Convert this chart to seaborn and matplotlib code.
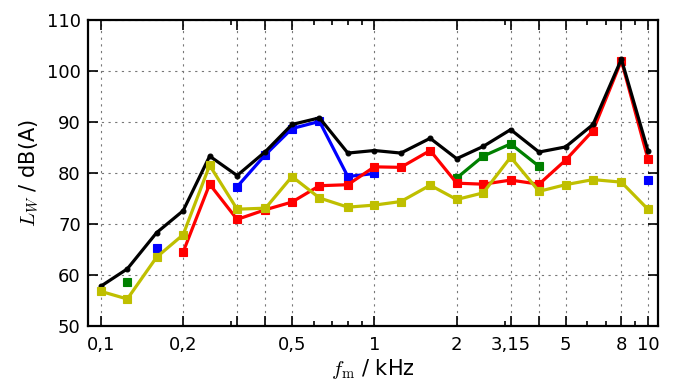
import numpy as np
import pandas as pd
import matplotlib
matplotlib.use("Agg")
import matplotlib.pyplot as plt
import seaborn as sns
from matplotlib.ticker import FixedLocator, FixedFormatter, NullFormatter

nan = np.nan
freqs = [0.1, 0.125, 0.16, 0.2, 0.25, 0.315, 0.4, 0.5, 0.63, 0.8, 1.0,
         1.25, 1.6, 2.0, 2.5, 3.15, 4.0, 5.0, 6.3, 8.0, 10.0]

black = [57.8, 61.2, 68.3, 72.6, 83.3, 79.5, 84.2, 89.5, 90.8, 83.9, 84.4,
         83.9, 86.8, 82.8, 85.2, 88.5, 84.1, 85.1, 89.5, 102.3, 84.4]
blue = [nan, nan, 65.3, nan, nan, 77.3, 83.6, 88.7, 90.1, 79.3, 79.9,
        nan, nan, nan, nan, nan, nan, nan, nan, nan, 78.6]
green = [nan, 58.7, nan, nan, nan, nan, nan, nan, nan, nan, nan,
         nan, nan, 79.0, 83.3, 85.7, 81.3, nan, nan, nan, nan]
red = [nan, nan, nan, 64.5, 77.8, 70.9, 72.8, 74.3, 77.5, 77.7, 81.2,
       81.1, 84.4, 78.0, 77.8, 78.6, 77.8, 82.5, 88.3, 102.0, 82.8]
yellow = [56.8, 55.3, 63.5, 67.9, 81.5, 72.9, 73.1, 79.3, 75.1, 73.3, 73.7,
          74.4, 77.6, 74.8, 76.1, 83.1, 76.4, 77.7, 78.7, 78.2, 72.9]

major_ticks = [0.1, 0.2, 0.315, 0.4, 0.5, 1, 2, 3.15, 4, 5, 8, 10]
major_labels = ["0,1", "0,2", "", "", "0,5", "1", "2", "3,15", "", "5", "8", "10"]
minor_ticks = [0.3, 0.6, 0.7, 0.8, 0.9, 3, 6, 7, 9]
yticks = [50, 60, 70, 80, 90, 100, 110]


def long_df(vals):
    f = np.array(freqs)
    v = np.array(vals, dtype=float)
    valid = ~np.isnan(v)
    # segment ids: increment when a run of valid values begins
    seg = np.cumsum(np.r_[valid[0], valid[1:] & ~valid[:-1]])
    return pd.DataFrame({"f": f[valid], "L": v[valid], "seg": seg[valid]})


sns.set_style("ticks")
plt.rcParams["font.family"] = ["DejaVu Sans"]
plt.rcParams["mathtext.fontset"] = "cm"
plt.rcParams["text.color"] = "black"
plt.rcParams["axes.labelcolor"] = "black"

fig = plt.figure(figsize=(6.75, 3.9), dpi=100)
ax = fig.add_axes([0.130, 0.164, 0.845, 0.785])

series = [
    (green, "#008000", "s", 5.5),
    (blue, "#0000ff", "s", 5.5),
    (red, "#ff0000", "s", 5.5),
    (black, "#000000", "o", 3.5),
    (yellow, "#bfbf00", "s", 5.5),
]
for vals, col, mk, ms in series:
    d = long_df(vals)
    sns.lineplot(data=d, x="f", y="L", units="seg", estimator=None, ax=ax,
                 color=col, marker=mk, markersize=ms, markeredgecolor=col,
                 markeredgewidth=0.8, linewidth=2.3, sort=False)

ax.set_xscale("log")
ax.set_xlim(0.0896, 10.9)
ax.set_ylim(50, 110)
ax.xaxis.set_major_locator(FixedLocator(major_ticks))
ax.xaxis.set_major_formatter(FixedFormatter(major_labels))
ax.xaxis.set_minor_locator(FixedLocator(minor_ticks))
ax.xaxis.set_minor_formatter(NullFormatter())
ax.set_yticks(yticks)

ax.grid(True, which="major", linestyle=(0, (2, 4)), color="#777777", linewidth=0.8)
ax.tick_params(which="both", direction="in", top=True, right=True,
               labelsize=13, width=1.2, colors="black")
ax.tick_params(axis="x", which="both", pad=7)
ax.tick_params(axis="y", which="both", pad=5)
ax.tick_params(which="major", length=7.5)
ax.tick_params(which="minor", length=3.5)
for s in ax.spines.values():
    s.set_linewidth(1.6)
    s.set_color("black")

ax.set_xlabel(r"$f_\mathrm{m}$ / kHz", fontsize=15, labelpad=2)
ax.set_ylabel(r"$L_W$ / dB(A)", fontsize=15, labelpad=4)

fig.savefig("out.png", dpi=100)
